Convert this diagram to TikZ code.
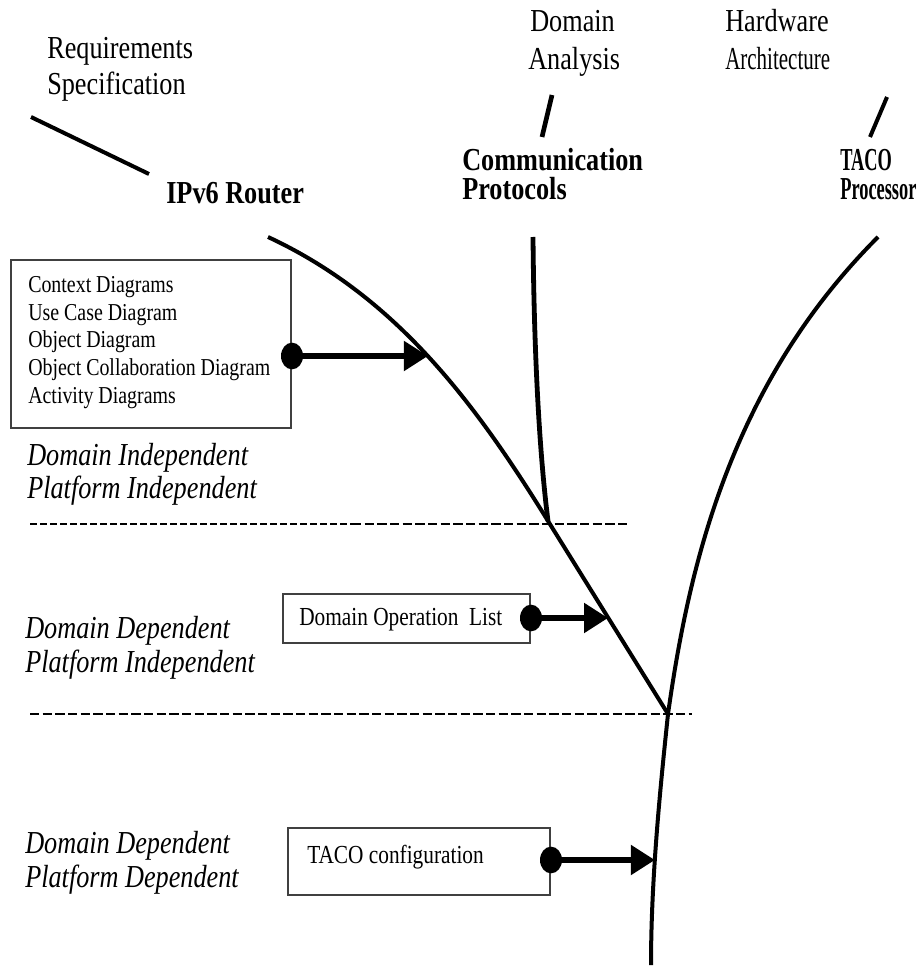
\documentclass[tikz,border=0pt]{standalone}
\usepackage{graphicx}
\usepackage{fontspec}
\usetikzlibrary{arrows.meta,shapes.geometric}
\newfontfamily\tnr[FakeStretch=0.82]{Liberation Serif}
\newcommand{\narrow}[2]{\scalebox{#1}[1]{#2}}
\begin{document}
\begin{tikzpicture}[x=0.75pt,y=-0.75pt,
  lbl/.style={inner sep=0pt, anchor=base west, font=\tnr\fontsize{24pt}{28pt}\selectfont},
  boldlbl/.style={lbl, font=\tnr\bfseries\fontsize{24pt}{28pt}\selectfont},
  itlbl/.style={lbl, font=\tnr\itshape\fontsize{24pt}{28pt}\selectfont},
  boxtxt/.style={lbl, font=\tnr\fontsize{19.5pt}{22pt}\selectfont},
  listtxt/.style={lbl, font=\tnr\fontsize{18.2pt}{21pt}\selectfont},
  box/.style={draw=black!75, line width=0.9pt, rectangle, inner sep=0pt},
  dotn/.style={ellipse, fill=black, inner sep=0pt, minimum width=16.5pt, minimum height=20pt},
  bone/.style={line width=3pt},
  curve/.style={line width=3pt},
  feed/.style={line width=4pt, -{Triangle[length=18pt, width=21.75pt]}},
  thindash/.style={line width=1.1pt, dash pattern=on 5.5pt off 2pt},
  thickdash/.style={line width=2.2pt, dash pattern=on 7pt off 2.5pt}]

\useasboundingbox (0,0) rectangle (922,969);
\fill[white] (0,0) rectangle (922,969);

% ---- headings ----
\node[lbl] (req)  at (47,59) {Requirements};
\node[lbl] (spec) at (47,95) {Specification};
\node[boldlbl] (ipv6) at (166,204) {IPv6 Router};
\node[lbl] (dom)  at (530,32) {Domain};
\node[lbl] (ana)  at (528,70) {Analysis};
\node[lbl] (hw)   at (725,32) {Hardware};
\node[lbl] (arch) at (725,70) {\narrow{0.8}{Architecture}};
\node[boldlbl] (comm) at (462,171) {Communication};
\node[boldlbl] (prot) at (462,200) {Protocols};
\node[boldlbl] (taco) at (840,171) {\narrow{0.7}{TACO}};
\node[boldlbl] (proc) at (840,200) {\narrow{0.7}{Processor}};

% short strokes between source labels and branch labels
\coordinate (s1a) at (31,117);  \coordinate (s1b) at (149,174);
\coordinate (s2a) at (552,95);  \coordinate (s2b) at (542,137);
\coordinate (s3a) at (887,97);  \coordinate (s3b) at (870,137);
\draw[bone] (s1a) -- (s1b);
\draw[bone, line width=3.5pt] (s2a) -- (s2b);
\draw[bone] (s3a) -- (s3b);

% ---- level captions ----
\node[itlbl] (di1) at (27,465) {Domain Independent};
\node[itlbl] (pi1) at (27,498) {Platform Independent};
\node[itlbl] (dd2) at (25,638) {Domain Dependent};
\node[itlbl] (pi2) at (25,672) {Platform Independent};
\node[itlbl] (dd3) at (25,853) {Domain Dependent};
\node[itlbl] (pd3) at (25,887) {Platform Dependent};

% ---- level separators ----
\coordinate (l1a) at (30,524);  \coordinate (l1m) at (352,524); \coordinate (l1b) at (628,524);
\coordinate (l2a) at (30,714);  \coordinate (l2b) at (692,714);
\draw[thindash] (l1a) -- (l1m);
\draw[thickdash] (l1m) -- (l1b);
\draw[thickdash] (l2a) -- (l2b);

% ---- branches ----
\coordinate (ipTop) at (268,237);
\coordinate (cmTop) at (533,237);
\coordinate (tcTop) at (878,237);
\coordinate (j1) at (548,521);
\coordinate (j2) at (668,714);
\coordinate (tcBot) at (651,965);

\draw[curve] (ipTop) .. controls (395,296) and (474,401) .. coordinate[pos=0.5] (h1) (j1)
  -- coordinate[pos=0.5] (h2) (j2);
\draw[curve, line width=3.6pt] (cmTop) .. controls (534,350) and (539,450) .. (j1);
\draw[curve] (tcTop) .. controls (731,384) and (689,565) .. (j2)
  .. controls (660,790) and (651,880) .. coordinate[pos=0.59] (h3) (tcBot);

% ---- artefact boxes ----
\node[box, minimum width=210pt, minimum height=126pt] (b1) at (151,344) {};
\node[listtxt] (t11) at (28,293) {Context Diagrams};
\node[listtxt] (t12) at (28,320.5) {Use Case Diagram};
\node[listtxt] (t13) at (28,348) {Object Diagram};
\node[listtxt] (t14) at (28,375.5) {Object Collaboration Diagram};
\node[listtxt] (t15) at (28,403) {Activity Diagrams};

\node[box, minimum width=185.25pt, minimum height=36.75pt] (b2) at (406.5,618.5) {};
\node[boxtxt] (t21) at (299,625) {Domain Operation~~List};

\node[box, minimum width=196.5pt, minimum height=50.25pt] (b3) at (419,861.5) {};
\node[boxtxt] (t31) at (307,863) {TACO configuration};

% ---- feeds from boxes into branches ----
\node[dotn] (d1) at (292,356) {};
\node[dotn] (d2) at (531,618) {};
\node[dotn] (d3) at (551,860) {};
\draw[feed] (d1.center) -- (d1 -| h1);
\draw[feed] (d2.center) -- (d2 -| h2);
\draw[feed] (d3.center) -- (d3 -| h3);

\end{tikzpicture}
\end{document}
